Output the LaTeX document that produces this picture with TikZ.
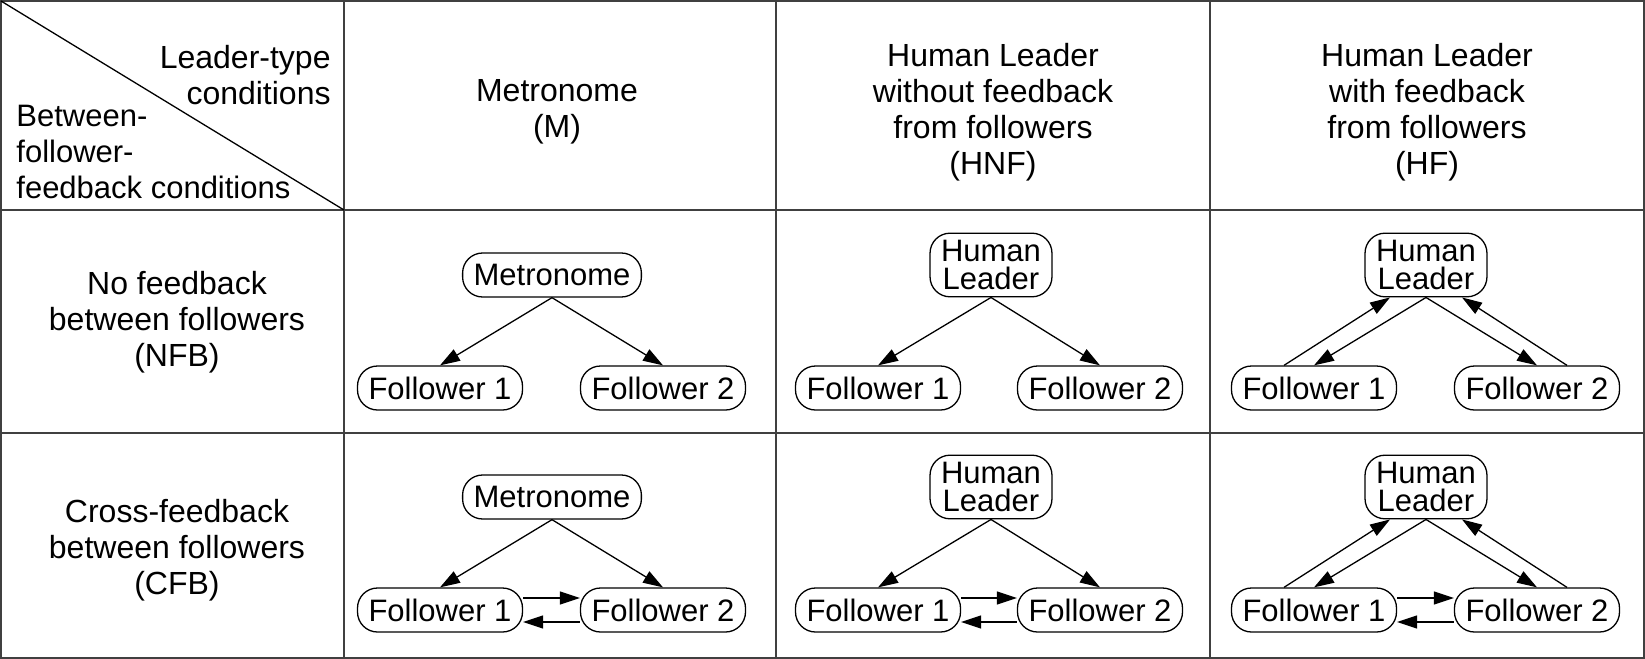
\documentclass[tikz,border=0pt]{standalone}
\usepackage{fontspec}
\setmainfont{Liberation Sans}
\usetikzlibrary{arrows.meta}

\begin{document}
\begin{tikzpicture}[x=0.5pt, y=-0.5pt,
    pill/.style={draw, line width=0.65pt, rounded corners=10pt, inner xsep=5.5pt, inner ysep=3.5pt, minimum height=22pt, align=center, font=\fontsize{15.5pt}{14pt}\selectfont},
    celltext/.style={inner sep=0pt, align=center, font=\fontsize{16pt}{18pt}\selectfont},
    feed/.style={-{Triangle[length=10pt, width=6.5pt]}, line width=0.65pt},
    gridline/.style={line width=1pt, black!75}]
    \useasboundingbox (0,0) rectangle (1645,659);
    % table
    \draw[gridline] (1,1) rectangle (1644,658);
    \draw[gridline] (344,1) -- (344,658) (776,1) -- (776,658) (1210,1) -- (1210,658);
    \draw[gridline] (1,210) -- (1644,210) (1,433) -- (1644,433);
    \draw[line width=0.65pt] (1,1) -- (344,210);
    % headers
    \node[celltext, align=right, anchor=east] (leadtype) at (331,75) {Leader-type\\conditions};
    \node[celltext, align=left, anchor=west, font=\fontsize{15.5pt}{18pt}\selectfont] (betweentype) at (16,152) {Between-\\follower-\\feedback conditions};
    \node[celltext] (headM) at (557,112) {Metronome\\(M)};
    \node[celltext] (headHNF) at (993,112) {Human Leader\\without feedback\\from followers\\(HNF)};
    \node[celltext] (headHF) at (1427,112) {Human Leader\\with feedback\\from followers\\(HF)};
    \node[celltext] (headNFB) at (177,322) {No feedback\\between followers\\(NFB)};
    \node[celltext] (headCFB) at (177,550) {Cross-feedback\\between followers\\(CFB)};

    % NFB row
    \node[pill] (metroA) at (552,275) {Metronome};
    \node[pill] (metroA1) at (440,388) {Follower 1};
    \node[pill] (metroA2) at (663,388) {Follower 2};
    \draw[feed] (metroA.south) -- (metroA1.north);
    \draw[feed] (metroA.south) -- (metroA2.north);

    \node[pill] (hnfA) at (991,265) {Human\\Leader};
    \node[pill] (hnfA1) at (878,388) {Follower 1};
    \node[pill] (hnfA2) at (1100,388) {Follower 2};
    \draw[feed] (hnfA.south) -- (hnfA1.north);
    \draw[feed] (hnfA.south) -- (hnfA2.north);

    \node[pill] (hfA) at (1426,265) {Human\\Leader};
    \node[pill] (hfA1) at (1314,388) {Follower 1};
    \node[pill] (hfA2) at (1537,388) {Follower 2};
    \draw[feed] (hfA.south) -- (hfA1.north);
    \draw[feed] ([xshift=-15pt]hfA1.north) -- ([xshift=-18pt]hfA.south);
    \draw[feed] (hfA.south) -- (hfA2.north);
    \draw[feed] ([xshift=15pt]hfA2.north) -- ([xshift=18pt]hfA.south);

    % CFB row
    \node[pill] (metroB) at (552,497) {Metronome};
    \node[pill] (metroB1) at (440,610) {Follower 1};
    \node[pill] (metroB2) at (663,610) {Follower 2};
    \draw[feed] (metroB.south) -- (metroB1.north);
    \draw[feed] (metroB.south) -- (metroB2.north);
    \draw[feed] ([yshift=6pt]metroB1.east) -- ([yshift=6pt]metroB2.west);
    \draw[feed] ([yshift=-6pt]metroB2.west) -- ([yshift=-6pt]metroB1.east);

    \node[pill] (hnfB) at (991,487) {Human\\Leader};
    \node[pill] (hnfB1) at (878,610) {Follower 1};
    \node[pill] (hnfB2) at (1100,610) {Follower 2};
    \draw[feed] (hnfB.south) -- (hnfB1.north);
    \draw[feed] (hnfB.south) -- (hnfB2.north);
    \draw[feed] ([yshift=6pt]hnfB1.east) -- ([yshift=6pt]hnfB2.west);
    \draw[feed] ([yshift=-6pt]hnfB2.west) -- ([yshift=-6pt]hnfB1.east);

    \node[pill] (hfB) at (1426,487) {Human\\Leader};
    \node[pill] (hfB1) at (1314,610) {Follower 1};
    \node[pill] (hfB2) at (1537,610) {Follower 2};
    \draw[feed] (hfB.south) -- (hfB1.north);
    \draw[feed] ([xshift=-15pt]hfB1.north) -- ([xshift=-18pt]hfB.south);
    \draw[feed] (hfB.south) -- (hfB2.north);
    \draw[feed] ([xshift=15pt]hfB2.north) -- ([xshift=18pt]hfB.south);
    \draw[feed] ([yshift=6pt]hfB1.east) -- ([yshift=6pt]hfB2.west);
    \draw[feed] ([yshift=-6pt]hfB2.west) -- ([yshift=-6pt]hfB1.east);
\end{tikzpicture}
\end{document}
